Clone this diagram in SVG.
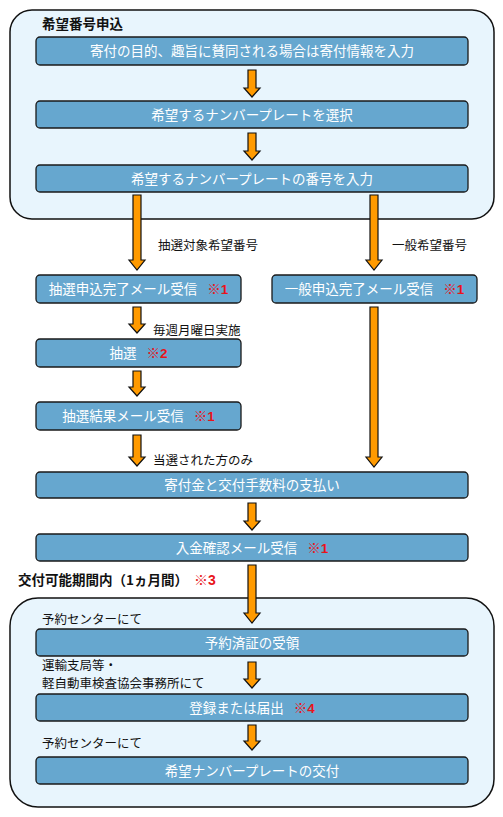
<svg xmlns="http://www.w3.org/2000/svg" width="503" height="817" viewBox="0 0 503 817">
<defs>
<style>
.outer{fill:#E8F5FD;stroke:#111;stroke-width:1.5}
.node rect{fill:#66A7CF;stroke:#1a1a1a;stroke-width:1.3}
.nt{font-family:"Noto Sans CJK JP","Noto Sans",sans-serif;font-size:13.5px;fill:#fff;text-anchor:middle}
.red{fill:#E8141B;font-weight:bold;font-family:"Liberation Sans","Noto Sans CJK JP",sans-serif}
.lbl{font-family:"Noto Sans CJK JP","Noto Sans",sans-serif;font-size:12.5px;fill:#111}
.ttl{font-family:"Noto Sans CJK JP","Noto Sans",sans-serif;font-size:13.5px;font-weight:bold;fill:#111}
.arr{fill:#FF9A00;stroke:#111;stroke-width:1.2;stroke-linejoin:miter}
</style>
</defs>
<g id="group-application">
<rect class="outer" x="10" y="10" width="484" height="209" rx="22" ry="22"/>
<text class="ttl" x="42" y="29">希望番号申込</text>
</g>
<g id="group-delivery">
<rect class="outer" x="10" y="598" width="484" height="209" rx="28" ry="28"/>
</g>
<text id="period-label" class="ttl" x="18" y="585">交付可能期間内（1ヵ月間）<tspan class="red" font-size="14" dx="6">※3</tspan></text>

<g id="n1" class="node"><rect x="36" y="37" width="432" height="28" rx="4"/><text class="nt" x="252" y="56">寄付の目的、趣旨に賛同される場合は寄付情報を入力</text></g>
<g id="n2" class="node"><rect x="36" y="101" width="432" height="27" rx="4"/><text class="nt" x="252" y="119.5">希望するナンバープレートを選択</text></g>
<g id="n3" class="node"><rect x="36" y="165" width="432" height="27" rx="4"/><text class="nt" x="252" y="183.5">希望するナンバープレートの番号を入力</text></g>
<g id="n4" class="node"><rect x="36" y="275" width="205" height="28" rx="4"/><text class="nt" x="138.5" y="294">抽選申込完了メール受信<tspan class="red" dx="10">※1</tspan></text></g>
<g id="n5" class="node"><rect x="272" y="275" width="205" height="28" rx="4"/><text class="nt" x="374.5" y="294">一般申込完了メール受信<tspan class="red" dx="10">※1</tspan></text></g>
<g id="n6" class="node"><rect x="36" y="339" width="205" height="28" rx="4"/><text class="nt" x="138.5" y="358">抽選<tspan class="red" dx="10">※2</tspan></text></g>
<g id="n7" class="node"><rect x="36" y="402" width="205" height="28" rx="4"/><text class="nt" x="138.5" y="421">抽選結果メール受信<tspan class="red" dx="10">※1</tspan></text></g>
<g id="n8" class="node"><rect x="36" y="472" width="432" height="26" rx="4"/><text class="nt" x="252" y="490">寄付金と交付手数料の支払い</text></g>
<g id="n9" class="node"><rect x="36" y="534" width="432" height="27" rx="4"/><text class="nt" x="252" y="552.5">入金確認メール受信<tspan class="red" dx="10">※1</tspan></text></g>
<g id="n10" class="node"><rect x="36" y="629" width="432" height="27" rx="4"/><text class="nt" x="252" y="647.5">予約済証の受領</text></g>
<g id="n11" class="node"><rect x="36" y="694" width="432" height="27" rx="4"/><text class="nt" x="252" y="712.5">登録または届出<tspan class="red" dx="10">※4</tspan></text></g>
<g id="n12" class="node"><rect x="36" y="757" width="432" height="27" rx="4"/><text class="nt" x="252" y="775.5">希望ナンバープレートの交付</text></g>

<g id="connectors">
<path class="arr" d="M248,70H256V88H260L252,97L244,88H248Z"/>
<path class="arr" d="M248,133H256V151H260L252,160L244,151H248Z"/>
<path class="arr" d="M133,195H141V260H145L137,270L129,260H133Z"/>
<path class="arr" d="M370,195H378V260H382L374,270L366,260H370Z"/>
<path class="arr" d="M133,307H141V324H145L137,333L129,324H133Z"/>
<path class="arr" d="M133,371H141V387H145L137,396L129,387H133Z"/>
<path class="arr" d="M133,435H141V457H145L137,466L129,457H133Z"/>
<path class="arr" d="M370,307H378V457H382L374,467L366,457H370Z"/>
<path class="arr" d="M248,503H256V521H260L252,530L244,521H248Z"/>
<path class="arr" d="M248,565H256V613H260L252,623L244,613H248Z"/>
<path class="arr" d="M248,662H256V679H260L252,688L244,679H248Z"/>
<path class="arr" d="M248,725H256V741H260L252,750L244,741H248Z"/>
<text class="lbl" x="158" y="249.5">抽選対象希望番号</text>
<text class="lbl" x="392" y="249.5">一般希望番号</text>
<text class="lbl" x="153" y="334.5">毎週月曜日実施</text>
<text class="lbl" x="153" y="464.5">当選された方のみ</text>
<text class="lbl" x="42" y="623.5">予約センターにて</text>
<text class="lbl" x="42" y="670" font-size="12">運輸支局等・</text>
<text class="lbl" x="42" y="687.5" font-size="12">軽自動車検査協会事務所にて</text>
<text class="lbl" x="42" y="747.5">予約センターにて</text>
</g>
</svg>
